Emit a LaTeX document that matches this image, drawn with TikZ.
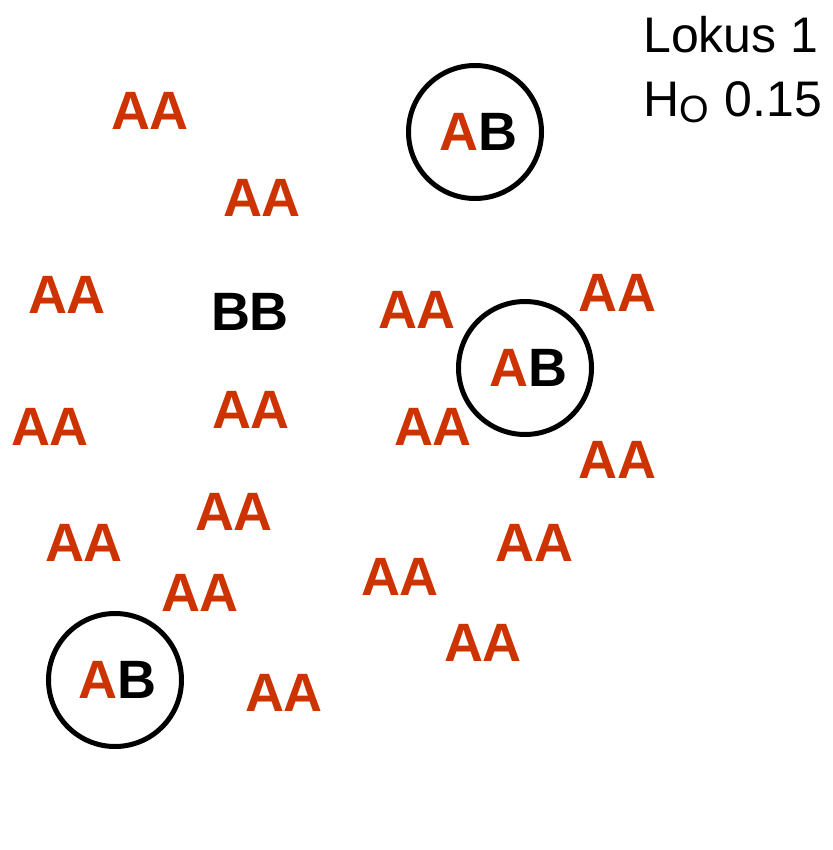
\documentclass[tikz,border=0pt]{standalone}
\usepackage{fontspec}
\setmainfont{Liberation Sans}
\definecolor{allA}{HTML}{CC3300}
\begin{document}
\begin{tikzpicture}[x=1pt,y=-1pt,
  geno/.style={inner sep=0pt, font=\fontsize{54}{54}\selectfont\bfseries},
  aa/.style={geno, text=allA},
  ring/.style={draw=black, line width=5pt, circle, minimum size=133pt, inner sep=0pt},
  lbl/.style={inner sep=0pt, anchor=base west, font=\fontsize{50}{50}\selectfont}]
\useasboundingbox (0,0) rectangle (832,850);
\node[aa] (a1) at (150,111) {AA};
\node[aa] (a2) at (262,198) {AA};
\node[aa] (a3) at (67,295) {AA};
\node[geno] (bb) at (250,312) {BB};
\node[aa] (a5) at (417,310) {AA};
\node[aa] (a6) at (617,293) {AA};
\node[aa] (a7) at (50,427) {AA};
\node[aa] (a8) at (251,410) {AA};
\node[aa] (a9) at (433,427) {AA};
\node[aa] (a10) at (617,460) {AA};
\node[aa] (a11) at (234,512) {AA};
\node[aa] (a12) at (84,543) {AA};
\node[aa] (a13) at (534,543) {AA};
\node[aa] (a14) at (400,577) {AA};
\node[aa] (a15) at (200,593) {AA};
\node[aa] (a16) at (483,643) {AA};
\node[aa] (a17) at (284,693) {AA};
\node[ring] (c1) at (475,132) {};
\node[geno] (ab1) at (478,132) {\textcolor{allA}{A}B};
\node[ring] (c2) at (525,368) {};
\node[geno] (ab2) at (528,368) {\textcolor{allA}{A}B};
\node[ring] (c3) at (115,680) {};
\node[geno] (ab3) at (117,680) {\textcolor{allA}{A}B};
\node[lbl] (lok) at (643,53) {Lokus 1};
\node[lbl] (ho) at (643,117) {H\raisebox{-6pt}{\fontsize{38}{38}\selectfont O}\hspace{2pt} 0.15};
\end{tikzpicture}
\end{document}
